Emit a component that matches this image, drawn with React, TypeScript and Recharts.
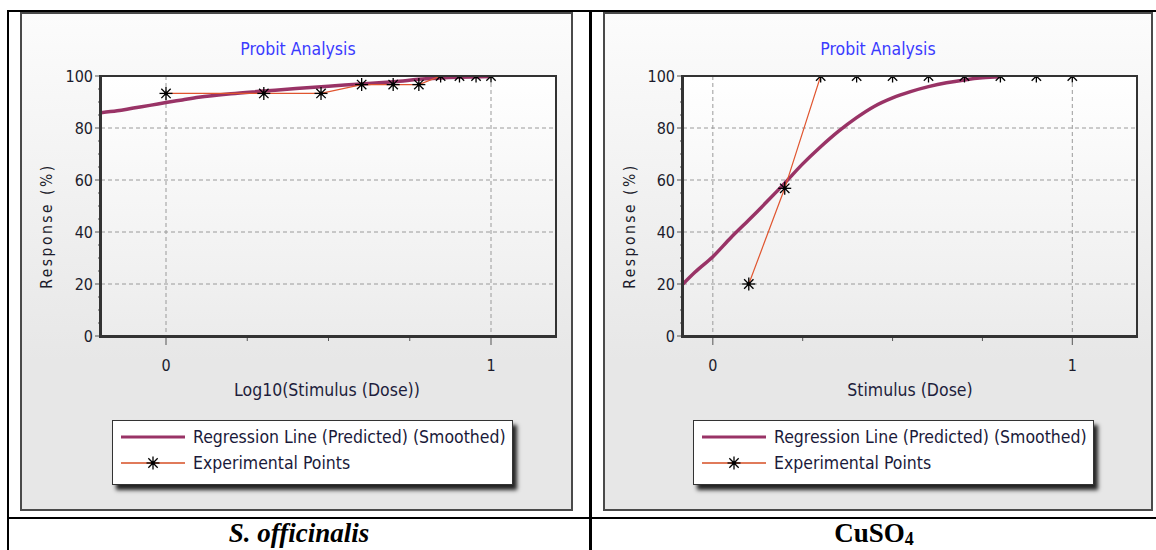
import React from "react";
import { LineChart, Line, XAxis, YAxis, CartesianGrid } from "recharts";

// S. officinalis: log10 dose vs response
const leftRegX = [-0.2, -0.15, -0.1, -0.05, 0, 0.05, 0.1, 0.2, 0.3, 0.4, 0.5, 0.6, 0.7, 0.8, 0.9, 1.0];
const leftRegY = [85.9, 86.6, 87.7, 88.7, 89.8, 90.8, 91.8, 93.2, 94.2, 95.2, 96.1, 96.9, 97.8, 98.9, 99.5, 99.8];
const leftExpX = [0, 0.301, 0.477, 0.602, 0.699, 0.778, 0.845, 0.903, 0.954, 1.0];
const leftExpY = [93.3, 93.3, 93.3, 96.7, 96.7, 96.7, 100, 100, 100, 100];

// CuSO4: dose vs response
const rightRegX = [-0.083, -0.05, 0, 0.05, 0.1, 0.15, 0.2, 0.25, 0.3, 0.35, 0.4, 0.45, 0.5, 0.55, 0.6, 0.65, 0.7, 0.75, 0.8];
const rightRegY = [20, 24.5, 30.5, 37.8, 44.6, 51.6, 58.8, 66.2, 72.8, 78.8, 84.0, 88.4, 91.6, 94.0, 95.9, 97.4, 98.5, 99.3, 99.7];
const rightExpX = [0.1, 0.2, 0.3, 0.4, 0.5, 0.6, 0.7, 0.8, 0.9, 1.0];
const rightExpY = [20, 56.8, 100, 100, 100, 100, 100, 100, 100, 100];

const yTicks = [0, 5, 10, 15, 20, 25, 30, 35, 40, 45, 50, 55, 60, 65, 70, 75, 80, 85, 90, 95, 100];
const xTicks = [0, 0.25, 0.5, 0.75, 1];
const xMajor = [0, 1];
const gridY = [20, 40, 60, 80];

const legendLabels = ["Regression Line (Predicted) (Smoothed)", "Experimental Points"];

const FONT = '"DejaVu Sans Condensed", "DejaVu Sans", sans-serif';
const REG = "#993366";
const EXP = "#e0552f";
const PLOT_TOP_SVG = 10;

const zip = (xs: number[], ys: number[]) => xs.map((x, i) => ({ x, y: ys[i] }));

const YTick = (props: any) => {
  const { x, y, payload } = props;
  const v = payload.value;
  const major = v % 20 === 0;
  return (
    <g>
      <line x1={x} x2={x - (major ? 6 : 3)} y1={y} y2={y} stroke="#555" strokeWidth={1} />
      {major && (
        <text x={x - 8} y={y} dy={6} textAnchor="end" fontSize={16} fontFamily={FONT} fill="#1c1c2c">
          {v}
        </text>
      )}
    </g>
  );
};

const XTick = (props: any) => {
  const { x, y, payload } = props;
  const v = payload.value;
  const major = xMajor.includes(v);
  return (
    <g>
      <line x1={x} x2={x} y1={y} y2={y + (major ? 9 : 5)} stroke="#555" strokeWidth={1} />
      {major && (
        <text x={x} y={y + 35} textAnchor="middle" fontSize={16} fontFamily={FONT} fill="#1c1c2c">
          {v}
        </text>
      )}
    </g>
  );
};

// asterisk marker; parts above the plot top are cut off like the original
const Star = (props: any) => {
  const { cx, cy, noClip } = props;
  if (cx == null || cy == null) return null;
  const r = 6.5;
  const d = r * 0.72;
  const top = noClip ? -1e9 : PLOT_TOP_SVG;
  const up = Math.min(r, cy - top);
  const dUp = Math.min(d, cy - top);
  return (
    <g stroke="#000" strokeWidth={1.3}>
      {cy >= top + 1 && <line x1={cx - r} x2={cx + r} y1={cy} y2={cy} />}
      <line x1={cx} x2={cx} y1={cy - up} y2={cy + r} />
      <line x1={cx - dUp} x2={cx + d} y1={cy - dUp} y2={cy + d} />
      <line x1={cx - d} x2={cx + dUp} y1={cy + d} y2={cy - dUp} />
      <circle cx={cx} cy={cy} r={2} fill="#000" stroke="none" />
    </g>
  );
};

function Panel(props: {
  left: number;
  width: number;
  plotLeft: number;
  plotRight: number;
  domain: [number, number];
  reg: { x: number; y: number }[];
  exp: { x: number; y: number }[];
  xTitle: string;
  xTitleCenter: number;
  titleCenter: number;
  legendLeft: number;
}) {
  const plotTop = 76;
  const plotBottom = 336;
  const plotW = props.plotRight - props.plotLeft;
  const plotH = plotBottom - plotTop;
  const chartLeft = props.plotLeft - 40;
  const chartTop = plotTop - PLOT_TOP_SVG;
  const text: React.CSSProperties = { position: "absolute", fontFamily: FONT, whiteSpace: "nowrap", lineHeight: "20px" };

  return (
    <>
      <div
        style={{
          position: "absolute",
          left: props.left,
          top: 12,
          width: props.width,
          height: 499,
          boxSizing: "border-box",
          border: "2px solid #4a4a4a",
          background: "linear-gradient(#fcfcfc, #e7e7e7 70%, #e7e7e7)",
        }}
      />
      <div
        style={{
          ...text,
          left: props.titleCenter - 100,
          width: 200,
          top: 39,
          textAlign: "center",
          fontSize: 17.5,
          color: "#3b3bff",
        }}
      >
        Probit Analysis
      </div>
      <div
        style={{
          position: "absolute",
          left: props.plotLeft,
          top: plotTop,
          width: plotW,
          height: plotH,
          background: "linear-gradient(#ffffff, #ececec)",
        }}
      />
      <div style={{ position: "absolute", left: chartLeft, top: chartTop }}>
        <LineChart width={plotW + 50} height={plotH + 50} margin={{ top: PLOT_TOP_SVG, right: 10, bottom: 0, left: 0 }}>
          <CartesianGrid
            stroke="#9a9a9a"
            strokeDasharray="4 3"
            horizontalValues={gridY}
            verticalValues={xMajor}
            fill="none"
          />
          <XAxis
            type="number"
            dataKey="x"
            domain={props.domain}
            ticks={xTicks}
            interval={0}
            allowDataOverflow
            axisLine={false}
            tickLine={false}
            tickSize={0}
            tickMargin={0}
            tick={<XTick />}
            height={40}
          />
          <YAxis
            type="number"
            domain={[0, 100]}
            ticks={yTicks}
            interval={0}
            allowDataOverflow
            axisLine={false}
            tickLine={false}
            tickSize={0}
            tickMargin={0}
            tick={<YTick />}
            width={40}
          />
          <Line
            data={props.reg}
            dataKey="y"
            type="monotone"
            stroke={REG}
            strokeWidth={3.5}
            dot={false}
            isAnimationActive={false}
          />
          <Line
            data={props.exp}
            dataKey="y"
            type="linear"
            stroke={EXP}
            strokeWidth={1.2}
            dot={<Star />}
            isAnimationActive={false}
          />
        </LineChart>
      </div>
      <div
        style={{
          position: "absolute",
          left: props.plotLeft - 2,
          top: plotTop - 1,
          width: plotW + 3,
          height: plotH + 3,
          boxSizing: "border-box",
          borderTop: "2px solid #333",
          borderRight: "2px solid #333",
          borderLeft: "3px solid #333",
          borderBottom: "3px solid #333",
          pointerEvents: "none",
        }}
      />
      <div
        style={{
          ...text,
          left: props.left + 27,
          top: 226,
          fontSize: 15.5,
          letterSpacing: 2.5,
          color: "#1c1c2c",
          transform: "translate(-50%, -50%) rotate(-90deg)",
        }}
      >
        Response (%)
      </div>
      <div
        style={{
          ...text,
          left: props.xTitleCenter - 150,
          width: 300,
          top: 380,
          textAlign: "center",
          fontSize: 17.5,
          color: "#1e1e3c",
        }}
      >
        {props.xTitle}
      </div>
      <div
        style={{
          position: "absolute",
          left: props.legendLeft,
          top: 420,
          width: 401,
          height: 65,
          boxSizing: "border-box",
          border: "1px solid #333",
          background: "#fff",
          boxShadow: "4px 5px 4px rgba(0,0,0,0.85)",
        }}
      >
        <svg width={80} height={63} style={{ position: "absolute", left: 0, top: 0 }}>
          <line x1={8} x2={72} y1={16} y2={16} stroke={REG} strokeWidth={3} />
          <line x1={8} x2={72} y1={42} y2={42} stroke="#e07a5a" strokeWidth={2} />
          <Star cx={40} cy={42} noClip />
        </svg>
        {legendLabels.map((l, i) => (
          <div
            key={l}
            style={{ ...text, left: 80, top: 6 + i * 26, fontSize: 17.5, color: "#1a1a3a" }}
          >
            {l}
          </div>
        ))}
      </div>
    </>
  );
}

export default function App() {
  const serif: React.CSSProperties = {
    position: "absolute",
    top: 518,
    lineHeight: "30px",
    fontFamily: '"Liberation Serif", "Times New Roman", serif',
    fontWeight: "bold",
    fontSize: 27,
    textAlign: "center",
    color: "#000",
  };
  return (
    <div style={{ position: "absolute", left: 0, top: 0, width: 1156, height: 550, background: "#fff", overflow: "hidden" }}>
      {/* table rules */}
      <div style={{ position: "absolute", left: 7, top: 10, width: 1149, height: 2, background: "#000" }} />
      <div style={{ position: "absolute", left: 7, top: 10, width: 2, height: 540, background: "#000" }} />
      <div style={{ position: "absolute", left: 589, top: 10, width: 3, height: 540, background: "#000" }} />
      <div style={{ position: "absolute", left: 7, top: 517, width: 1149, height: 2, background: "#000" }} />

      <Panel
        left={20}
        width={553}
        plotLeft={101}
        plotRight={556}
        domain={[-0.2, 1.2]}
        reg={zip(leftRegX, leftRegY)}
        exp={zip(leftExpX, leftExpY)}
        xTitle="Log10(Stimulus (Dose))"
        xTitleCenter={327}
        titleCenter={298}
        legendLeft={112}
      />
      <Panel
        left={603}
        width={550}
        plotLeft={683}
        plotRight={1137}
        domain={[-0.083, 1.18]}
        reg={zip(rightRegX, rightRegY)}
        exp={zip(rightExpX, rightExpY)}
        xTitle="Stimulus (Dose)"
        xTitleCenter={910}
        titleCenter={878}
        legendLeft={693}
      />

      <div style={{ ...serif, left: 9, width: 580, fontStyle: "italic" }}>S. officinalis</div>
      <div style={{ ...serif, left: 592, width: 564 }}>
        CuSO<span style={{ fontSize: 18, verticalAlign: -3 }}>4</span>
      </div>
    </div>
  );
}
